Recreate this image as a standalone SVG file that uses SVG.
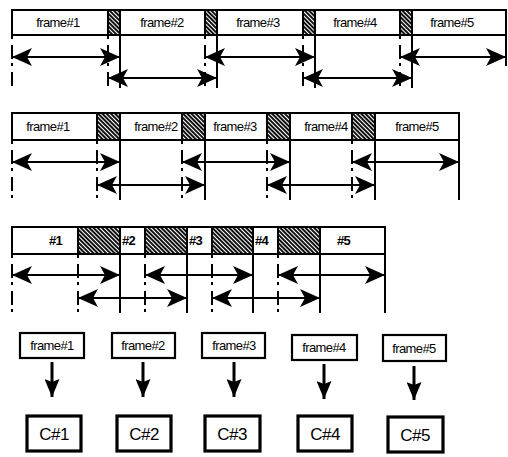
<svg xmlns="http://www.w3.org/2000/svg" width="508" height="457" viewBox="0 0 508 457">
  <defs>
    <!-- guard interval fill -->
    <pattern id="hatch" width="3" height="3" patternUnits="userSpaceOnUse" patternTransform="rotate(-45)">
      <rect width="3" height="3" fill="#fff"/>
      <rect width="2" height="3" fill="#111"/>
    </pattern>
    <!-- span arrowhead, used at both ends -->
    <marker id="ah" viewBox="0 0 20 18" refX="20" refY="9" markerWidth="20" markerHeight="18" markerUnits="userSpaceOnUse" orient="auto-start-reverse">
      <path d="M0,0 L20,9 L0,18 L5,9 Z" fill="#000"/>
    </marker>
    <marker id="dh" viewBox="0 0 18 15" refX="18" refY="7.5" markerWidth="18" markerHeight="15" markerUnits="userSpaceOnUse" orient="auto">
      <path d="M0,0 L18,7.5 L0,15 L3,7.5 Z" fill="#000"/>
    </marker>
  </defs>
  <style>
    .seg { fill: #fff; stroke: #000; stroke-width: 2; }
    .gi { fill: url(#hatch); stroke: #000; stroke-width: 2; }
    .lbl { font-family: "Liberation Sans", Arial, sans-serif; font-size: 13px; fill: #000; letter-spacing: -0.6px; }
    .num { font-family: "Liberation Sans", Arial, sans-serif; font-size: 13px; font-weight: bold; fill: #000; letter-spacing: -0.8px; }
    .big { font-family: "Liberation Sans", Arial, sans-serif; font-size: 17px; fill: #000; letter-spacing: -0.5px; }
    .box { fill: #fff; stroke: #000; stroke-width: 2.2; }
    .cbox { fill: #fff; stroke: #000; stroke-width: 3.2; }
    .span { stroke: #000; stroke-width: 2; fill: none; marker-start: url(#ah); marker-end: url(#ah); }
    .edge { stroke: #000; stroke-width: 2; }
    .dd { stroke: #000; stroke-width: 2; stroke-dasharray: 3 6 14 4; }
    .down { stroke: #000; stroke-width: 3; marker-end: url(#dh); }
  </style>

  <!-- Row 1: short guard intervals -->
  <g id="r1-frame1"><rect class="seg" x="12" y="10" width="96" height="25"/><text class="lbl" x="58" y="27" text-anchor="middle">frame#1</text></g>
  <g id="r1-gi1"><rect class="gi" x="108" y="10" width="12" height="25"/></g>
  <g id="r1-frame2"><rect class="seg" x="120" y="10" width="85" height="25"/><text class="lbl" x="162" y="27" text-anchor="middle">frame#2</text></g>
  <g id="r1-gi2"><rect class="gi" x="205" y="10" width="12" height="25"/></g>
  <g id="r1-frame3"><rect class="seg" x="217" y="10" width="86" height="25"/><text class="lbl" x="258" y="27" text-anchor="middle">frame#3</text></g>
  <g id="r1-gi3"><rect class="gi" x="303" y="10" width="12" height="25"/></g>
  <g id="r1-frame4"><rect class="seg" x="315" y="10" width="85" height="25"/><text class="lbl" x="355" y="27" text-anchor="middle">frame#4</text></g>
  <g id="r1-gi4"><rect class="gi" x="400" y="10" width="12" height="25"/></g>
  <g id="r1-frame5"><rect class="seg" x="412" y="10" width="94" height="25"/><text class="lbl" x="452" y="27" text-anchor="middle">frame#5</text></g>

  <!-- Row 2: longer guard intervals -->
  <g id="r2-frame1"><rect class="seg" x="12" y="113" width="85" height="27"/><text class="lbl" x="48" y="131" text-anchor="middle">frame#1</text></g>
  <g id="r2-gi1"><rect class="gi" x="97" y="113" width="23" height="27"/></g>
  <g id="r2-frame2"><rect class="seg" x="120" y="113" width="62" height="27"/><text class="lbl" x="156" y="131" text-anchor="middle">frame#2</text></g>
  <g id="r2-gi2"><rect class="gi" x="182" y="113" width="23" height="27"/></g>
  <g id="r2-frame3"><rect class="seg" x="205" y="113" width="62" height="27"/><text class="lbl" x="235" y="131" text-anchor="middle">frame#3</text></g>
  <g id="r2-gi3"><rect class="gi" x="267" y="113" width="23" height="27"/></g>
  <g id="r2-frame4"><rect class="seg" x="290" y="113" width="62" height="27"/><text class="lbl" x="326" y="131" text-anchor="middle">frame#4</text></g>
  <g id="r2-gi4"><rect class="gi" x="352" y="113" width="23" height="27"/></g>
  <g id="r2-frame5"><rect class="seg" x="375" y="113" width="84" height="27"/><text class="lbl" x="417" y="131" text-anchor="middle">frame#5</text></g>

  <!-- Row 3: guard intervals longer than the frames -->
  <g id="r3-frame1"><rect class="seg" x="12" y="227" width="66" height="27"/><text class="num" x="49" y="245">#1</text></g>
  <g id="r3-gi1"><rect class="gi" x="78" y="227" width="42" height="27"/></g>
  <g id="r3-frame2"><rect class="seg" x="120" y="227" width="25" height="27"/><text class="num" x="122" y="245">#2</text></g>
  <g id="r3-gi2"><rect class="gi" x="145" y="227" width="42" height="27"/></g>
  <g id="r3-frame3"><rect class="seg" x="187" y="227" width="25" height="27"/><text class="num" x="189" y="245">#3</text></g>
  <g id="r3-gi3"><rect class="gi" x="212" y="227" width="41" height="27"/></g>
  <g id="r3-frame4"><rect class="seg" x="253" y="227" width="25" height="27"/><text class="num" x="255" y="245">#4</text></g>
  <g id="r3-gi4"><rect class="gi" x="278" y="227" width="42" height="27"/></g>
  <g id="r3-frame5"><rect class="seg" x="320" y="227" width="65" height="27"/><text class="num" x="337" y="245">#5</text></g>

  <!-- Row 4: frames mapped to channels -->
  <g id="f1"><rect class="box" x="20" y="333" width="64" height="25"/><text class="lbl" x="52" y="350" text-anchor="middle">frame#1</text></g>
  <g id="f2"><rect class="box" x="112" y="333" width="63" height="25"/><text class="lbl" x="143" y="350" text-anchor="middle">frame#2</text></g>
  <g id="f3"><rect class="box" x="202" y="333" width="63" height="25"/><text class="lbl" x="234" y="350" text-anchor="middle">frame#3</text></g>
  <g id="f4"><rect class="box" x="292" y="335" width="65" height="25"/><text class="lbl" x="324" y="352" text-anchor="middle">frame#4</text></g>
  <g id="f5"><rect class="box" x="383" y="335" width="63" height="26"/><text class="lbl" x="414" y="353" text-anchor="middle">frame#5</text></g>

  <g id="c1"><rect class="cbox" x="27" y="416" width="54" height="35"/><text class="big" x="54" y="440" text-anchor="middle">C#1</text></g>
  <g id="c2"><rect class="cbox" x="117" y="416" width="54" height="35"/><text class="big" x="144" y="440" text-anchor="middle">C#2</text></g>
  <g id="c3"><rect class="cbox" x="205" y="416" width="55" height="35"/><text class="big" x="232" y="440" text-anchor="middle">C#3</text></g>
  <g id="c4"><rect class="cbox" x="298" y="416" width="54" height="35"/><text class="big" x="325" y="440" text-anchor="middle">C#4</text></g>
  <g id="c5"><rect class="cbox" x="388" y="417" width="55" height="35"/><text class="big" x="415" y="441" text-anchor="middle">C#5</text></g>

  <g id="connectors">
    <!-- row 1 boundaries -->
    <line class="dd" x1="12" y1="36" x2="12" y2="86"/>
    <line class="dd" x1="108" y1="36" x2="108" y2="86"/>
    <line class="edge" x1="120" y1="35" x2="120" y2="88"/>
    <line class="dd" x1="205" y1="36" x2="205" y2="86"/>
    <line class="edge" x1="217" y1="35" x2="217" y2="88"/>
    <line class="dd" x1="303" y1="36" x2="303" y2="86"/>
    <line class="edge" x1="315" y1="35" x2="315" y2="88"/>
    <line class="dd" x1="400" y1="36" x2="400" y2="86"/>
    <line class="edge" x1="412" y1="35" x2="412" y2="88"/>
    <line class="edge" x1="506" y1="35" x2="506" y2="66"/>
    <!-- row 1 spans -->
    <line class="span" x1="12" y1="57" x2="120" y2="57"/>
    <line class="span" x1="108" y1="78" x2="217" y2="78"/>
    <line class="span" x1="205" y1="57" x2="315" y2="57"/>
    <line class="span" x1="303" y1="78" x2="412" y2="78"/>
    <line class="span" x1="400" y1="57" x2="506" y2="57"/>

    <!-- row 2 boundaries -->
    <line class="dd" x1="12" y1="141" x2="12" y2="200"/>
    <line class="dd" x1="97" y1="141" x2="97" y2="200"/>
    <line class="edge" x1="120" y1="140" x2="120" y2="200"/>
    <line class="dd" x1="182" y1="141" x2="182" y2="200"/>
    <line class="edge" x1="205" y1="140" x2="205" y2="200"/>
    <line class="dd" x1="267" y1="141" x2="267" y2="200"/>
    <line class="edge" x1="290" y1="140" x2="290" y2="200"/>
    <line class="dd" x1="352" y1="141" x2="352" y2="200"/>
    <line class="edge" x1="375" y1="140" x2="375" y2="200"/>
    <line class="edge" x1="459" y1="140" x2="459" y2="200"/>
    <!-- row 2 spans -->
    <line class="span" x1="12" y1="162" x2="120" y2="162"/>
    <line class="span" x1="97" y1="185" x2="205" y2="185"/>
    <line class="span" x1="182" y1="162" x2="290" y2="162"/>
    <line class="span" x1="267" y1="185" x2="375" y2="185"/>
    <line class="span" x1="352" y1="162" x2="459" y2="162"/>

    <!-- row 3 boundaries -->
    <line class="dd" x1="12" y1="255" x2="12" y2="313"/>
    <line class="dd" x1="78" y1="255" x2="78" y2="313"/>
    <line class="edge" x1="120" y1="254" x2="120" y2="313"/>
    <line class="dd" x1="145" y1="255" x2="145" y2="313"/>
    <line class="edge" x1="187" y1="254" x2="187" y2="313"/>
    <line class="dd" x1="212" y1="255" x2="212" y2="313"/>
    <line class="edge" x1="253" y1="254" x2="253" y2="313"/>
    <line class="dd" x1="278" y1="255" x2="278" y2="313"/>
    <line class="edge" x1="320" y1="254" x2="320" y2="313"/>
    <line class="edge" x1="385" y1="254" x2="385" y2="313"/>
    <!-- row 3 spans -->
    <line class="span" x1="12" y1="275" x2="120" y2="275"/>
    <line class="span" x1="78" y1="298" x2="187" y2="298"/>
    <line class="span" x1="145" y1="275" x2="253" y2="275"/>
    <line class="span" x1="212" y1="298" x2="320" y2="298"/>
    <line class="span" x1="278" y1="275" x2="385" y2="275"/>

    <!-- frame to channel -->
    <line class="down" x1="52" y1="362" x2="52" y2="397"/>
    <line class="down" x1="143" y1="362" x2="143" y2="397"/>
    <line class="down" x1="234" y1="362" x2="234" y2="397"/>
    <line class="down" x1="324" y1="364" x2="324" y2="399"/>
    <line class="down" x1="414" y1="366" x2="414" y2="400"/>
  </g>
</svg>
